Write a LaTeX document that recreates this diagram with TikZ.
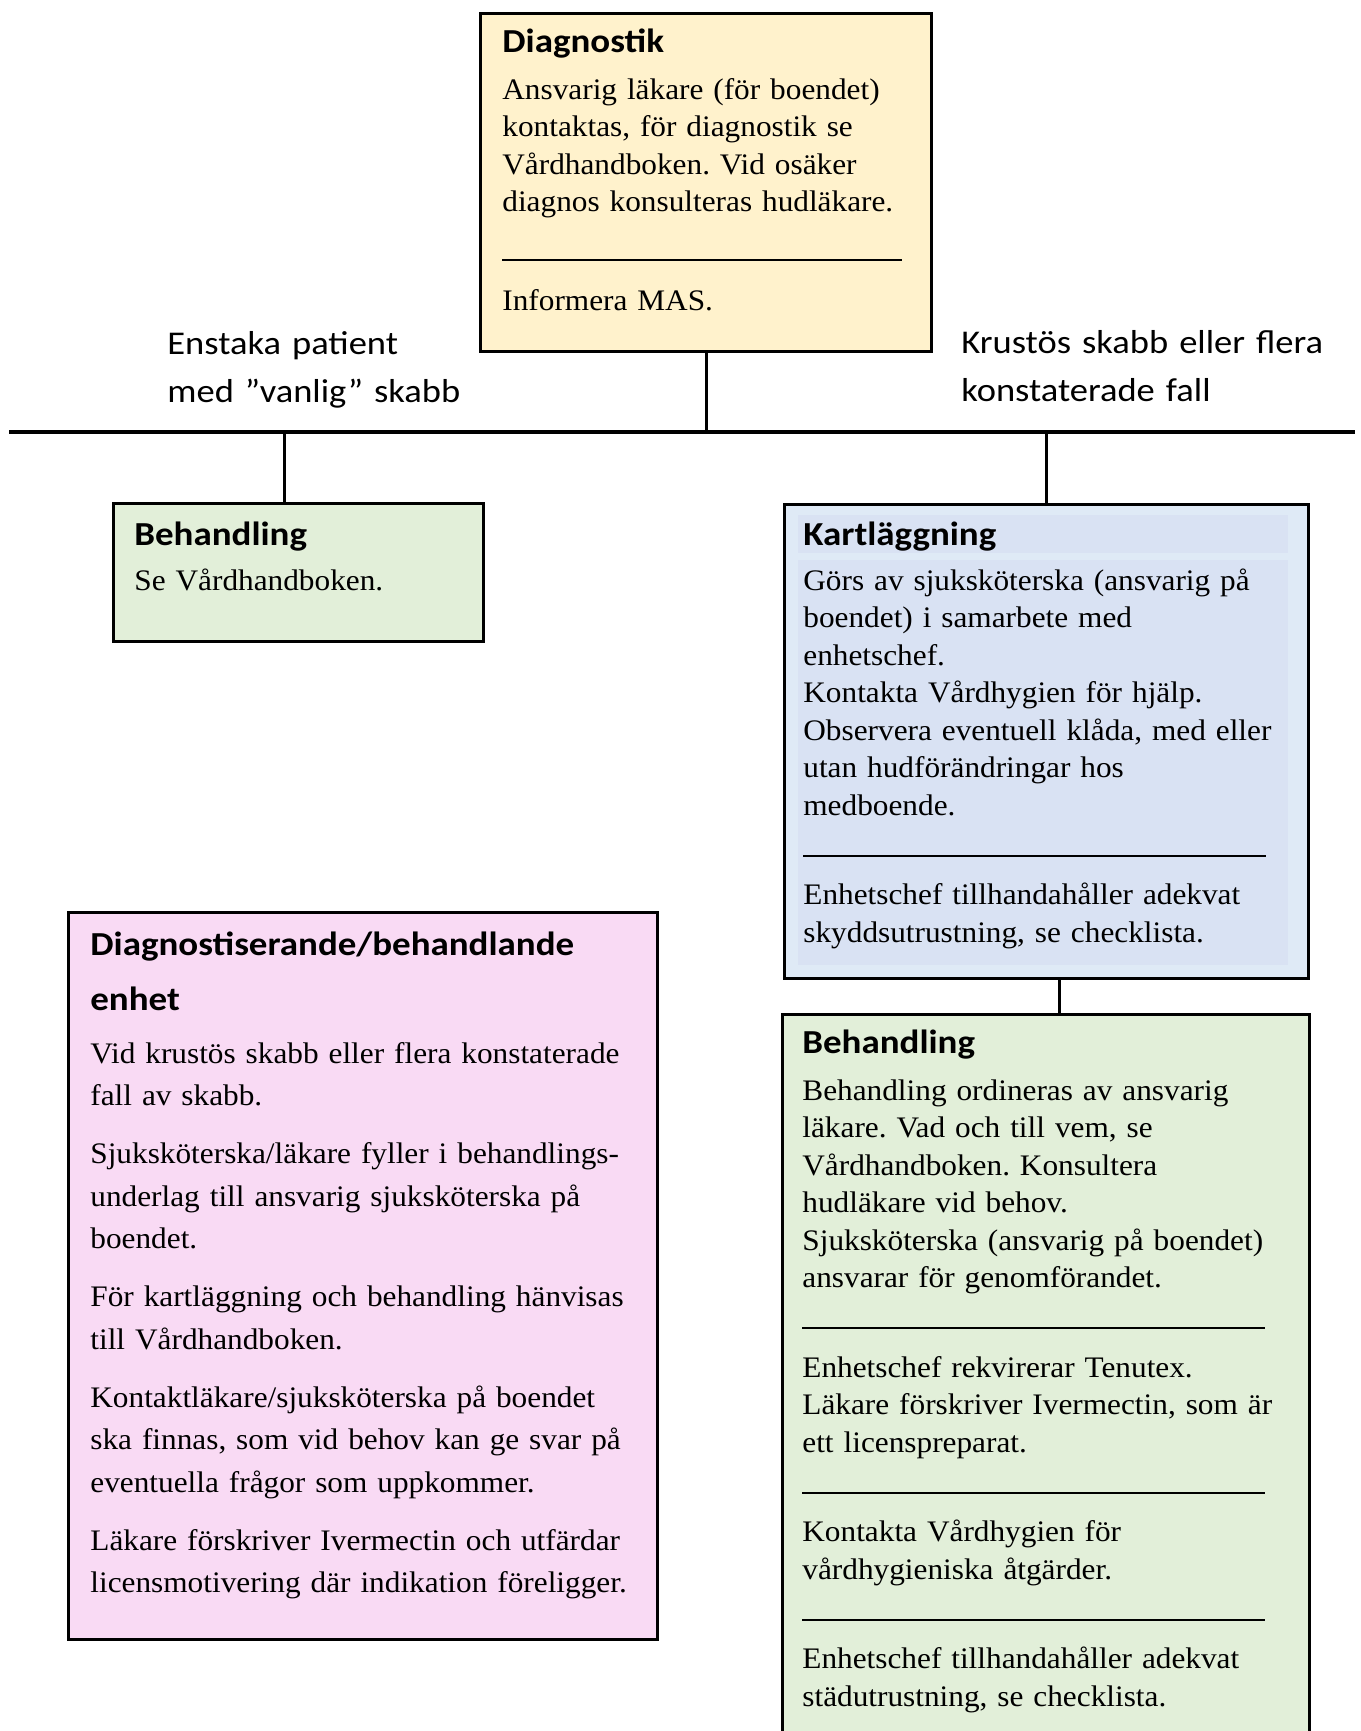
\documentclass[tikz,border=0pt]{standalone}
\usepackage{fontspec}
\setmainfont{Liberation Serif}[FakeStretch=1.05]
\newfontfamily\headfont{Carlito}[FakeStretch=1.1]
\usetikzlibrary{positioning}
\definecolor{diagfill}{HTML}{FFF2CC}
\definecolor{behfill}{HTML}{E2EFD9}
\definecolor{kartfill}{HTML}{DFEAF6}
\definecolor{kartband}{HTML}{D9E2F3}
\definecolor{enhetfill}{HTML}{F9DAF4}
\newcommand{\sepline}[1]{\rule[-2pt]{#1}{0.9pt}}
\frenchspacing
\tikzset{
	boxed/.style={draw, line width=1.6pt, anchor=north west, inner sep=0pt},
	heading/.style={anchor=base west, inner sep=0pt, align=left,
		font=\headfont\bfseries\fontsize{16.8}{27.5}\selectfont},
	bodytext/.style={anchor=base west, inner sep=0pt, align=left,
		font=\fontsize{14.9}{18.75}\selectfont},
	casetext/.style={anchor=base west, inner sep=0pt, align=left,
		text width=250pt, font=\headfont\fontsize{16.6}{24}\selectfont},
	stem/.style={line width=1.6pt}
}
\begin{document}
\begin{tikzpicture}[x=0.5pt, y=-0.5pt]
	\useasboundingbox (0,0) rectangle (1361,1731);
	% boxes
	\node [boxed, fill=diagfill, minimum width=225.5pt, minimum height=169pt] 
		(diag) at (479,12) {};
	\node [boxed, fill=behfill, minimum width=185pt, minimum height=69pt] 
		(behleft) at (112,502) {};
	\node [boxed, fill=kartfill, minimum width=262pt, minimum height=237pt] 
		(kart) at (783,503) {};
	\node [boxed, fill=behfill, minimum width=263.5pt, minimum height=380pt] 
		(behright) at (781,1013) {};
	\node [boxed, fill=enhetfill, minimum width=294.5pt, minimum height=363.5pt] 
		(enhet) at (67,911) {};
	\fill [kartband] (798,515) rectangle (1288,553);
	\fill [kartband] (798,560) rectangle (1288,965);
	% texts
	\node [heading] (diaghead) at (502,52) {Diagnostik};
	\node [bodytext, text width=220pt] (diagbody) at (502,99) 
		{Ansvarig läkare (för boendet)\\
		kontaktas, för diagnostik se\\
		Vårdhandboken. Vid osäker\\
		diagnos konsulteras hudläkare.\\[4pt]
		\sepline{200pt}\\[7.75pt]
		Informera MAS.};
	\node [casetext] (caseleft) at (167,354) 
		{Enstaka patient\\ med ”vanlig” skabb};
	\node [casetext] (caseright) at (961,353) 
		{Krustös skabb eller flera\\ konstaterade fall};
	\node [heading] (behlefthead) at (134,545) {Behandling};
	\node [bodytext, text width=180pt] (behleftbody) at (134,590) 
		{Se Vårdhandboken.};
	\node [heading] (karthead) at (803,545) {Kartläggning};
	\node [bodytext, text width=250pt] (kartbody) at (803,590) 
		{Görs av sjuksköterska (ansvarig på\\
		boendet) i samarbete med\\
		enhetschef.\\
		Kontakta Vårdhygien för hjälp.\\
		Observera eventuell klåda, med eller\\
		utan hudförändringar hos\\
		medboende.\\
		\sepline{231.5pt}\\[7.25pt]
		Enhetschef tillhandahåller adekvat\\
		skyddsutrustning, se checklista.};
	\node [heading] (behrighthead) at (802,1053) {Behandling};
	\node [bodytext, text width=250pt] (behrightbody) at (802,1100) 
		{Behandling ordineras av ansvarig\\
		läkare. Vad och till vem, se\\
		Vårdhandboken. Konsultera\\
		hudläkare vid behov.\\
		Sjuksköterska (ansvarig på boendet)\\
		ansvarar för genomförandet.\\
		\sepline{231.5pt}\\[7.25pt]
		Enhetschef rekvirerar Tenutex.\\
		Läkare förskriver Ivermectin, som är\\
		ett licenspreparat.\\
		\sepline{231.5pt}\\[7.25pt]
		Kontakta Vårdhygien för\\
		vårdhygieniska åtgärder.\\
		\sepline{231.5pt}\\[7.25pt]
		Enhetschef tillhandahåller adekvat\\
		städutrustning, se checklista.};
	\node [heading, text width=280pt] (enhethead) at (90,955) 
		{Diagnostiserande/behandlande\\ enhet};
	\node [bodytext, text width=285pt, font=\fontsize{14.9}{21.25}\selectfont] 
		(enhetbody) at (90,1063) 
		{Vid krustös skabb eller flera konstaterade\\
		fall av skabb.\\[7.75pt]
		Sjuksköterska/läkare fyller i behandlings-\\
		underlag till ansvarig sjuksköterska på\\
		boendet.\\[7.75pt]
		För kartläggning och behandling hänvisas\\
		till Vårdhandboken.\\[7.75pt]
		Kontaktläkare/sjuksköterska på boendet\\
		ska finnas, som vid behov kan ge svar på\\
		eventuella frågor som uppkommer.\\[7.75pt]
		Läkare förskriver Ivermectin och utfärdar\\
		licensmotivering där indikation föreligger.};
	% connectors
	\coordinate (busW) at (9,432);
	\coordinate (busE) at (1355,432);
	\coordinate (stemL) at ([xshift=-7pt]behleft.north);
	\coordinate (stemK) at ([xshift=6.5pt]kart.south);
	\draw [stem] (busW) -- (busE);
	\draw [stem] (diag.south) -- (diag.south |- busW);
	\draw [stem] (stemL) -- (stemL |- busW);
	\draw [stem] (kart.north) -- (kart.north |- busW);
	\draw [stem] (stemK) -- (stemK |- behright.north);
\end{tikzpicture}
\end{document}
